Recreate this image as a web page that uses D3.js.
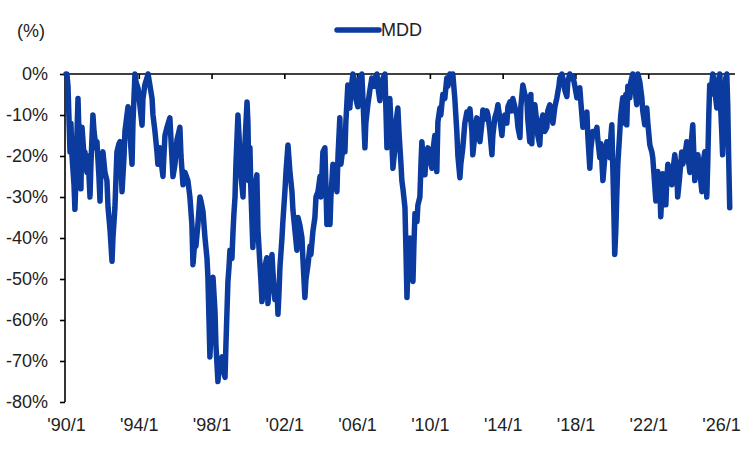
<!DOCTYPE html>
<html>
<head>
<meta charset="utf-8">
<script src="https://cdn.jsdelivr.net/npm/d3@7"></script>
<style>
body { margin:0; background:#fff; }
#mdd-chart { width:750px; height:450px; }
text { font-family:"Liberation Sans", Arial, sans-serif; fill:#222; }
</style>
</head>
<body>
<div id="mdd-chart"></div>
<script>
// time as decimal year, value as drawdown in %
var years = [
	1990.00,1990.05,1990.11,1990.22,1990.27,1990.33,1990.44,1990.49,1990.55,1990.60,1990.66,1990.71,1990.77,1990.82,1990.88,1990.99,
	1991.04,1991.15,1991.21,1991.32,1991.37,1991.48,1991.54,1991.65,1991.70,1991.81,1991.87,1991.92,
	1992.03,1992.14,1992.25,1992.31,1992.42,1992.53,1992.58,1992.69,1992.75,1992.80,1992.91,1992.97,
	1993.02,1993.08,1993.19,1993.24,1993.35,1993.41,1993.52,1993.63,1993.68,1993.79,1993.85,1993.96,
	1994.07,1994.18,1994.23,1994.34,1994.45,1994.51,1994.62,1994.73,1994.78,1994.89,
	1995.00,1995.05,1995.16,1995.22,1995.33,1995.38,1995.44,1995.55,1995.71,1995.77,1995.88,1995.99,
	1996.10,1996.21,1996.26,1996.32,1996.43,1996.54,1996.70,1996.81,1996.92,1996.98,
	1997.09,1997.14,1997.25,1997.36,1997.42,1997.53,1997.64,1997.75,1997.80,1997.86,1997.91,1997.97,
	1998.02,1998.08,1998.19,1998.24,1998.35,1998.41,1998.46,1998.57,1998.63,1998.74,1998.79,1998.90,1998.96,
	1999.01,1999.12,1999.18,1999.23,1999.29,1999.34,1999.45,1999.51,1999.56,1999.62,1999.73,1999.78,1999.89,1999.95,
	2000.00,2000.05,2000.11,2000.16,2000.27,2000.33,2000.44,2000.49,2000.55,2000.66,2000.71,2000.77,2000.88,2000.93,
	2001.04,2001.10,2001.21,2001.32,2001.37,2001.48,2001.59,2001.65,2001.70,2001.76,2001.87,2001.92,
	2002.03,2002.09,2002.20,2002.31,2002.42,2002.47,2002.58,2002.69,2002.75,2002.86,2002.97,
	2003.02,2003.13,2003.19,2003.30,2003.41,2003.46,2003.57,2003.68,2003.74,2003.85,2003.96,
	2004.01,2004.12,2004.23,2004.29,2004.34,2004.45,2004.51,2004.56,2004.67,2004.78,2004.89,2004.95,
	2005.05,2005.11,2005.22,2005.33,2005.38,2005.49,2005.55,2005.60,2005.66,2005.77,2005.88,2005.93,
	2006.04,2006.10,2006.15,2006.26,2006.32,2006.43,2006.48,2006.59,2006.70,2006.81,2006.92,2006.98,
	2007.09,2007.14,2007.25,2007.36,2007.42,2007.53,2007.58,2007.64,2007.69,2007.80,2007.86,2007.97,
	2008.08,2008.13,2008.24,2008.30,2008.41,2008.46,2008.52,2008.63,2008.68,2008.74,2008.79,2008.90,2008.96,
	2009.07,2009.12,2009.18,2009.29,2009.34,2009.45,2009.51,2009.56,2009.62,2009.73,2009.78,2009.89,
	2010.00,2010.11,2010.16,2010.27,2010.33,2010.38,2010.44,2010.55,2010.60,2010.71,2010.82,2010.93,2010.99,
	2011.10,2011.21,2011.26,2011.37,2011.48,2011.54,2011.65,2011.70,2011.81,2011.92,
	2012.03,2012.09,2012.20,2012.31,2012.36,2012.47,2012.58,2012.64,2012.75,2012.86,2012.91,
	2013.02,2013.13,2013.19,2013.30,2013.41,2013.46,2013.57,2013.68,2013.74,2013.85,2013.96,
	2014.01,2014.12,2014.23,2014.29,2014.40,2014.51,2014.56,2014.67,2014.78,2014.84,2014.95,
	2015.00,2015.11,2015.22,2015.33,2015.38,2015.49,2015.55,2015.60,2015.66,2015.77,2015.88,2015.93,
	2016.04,2016.10,2016.21,2016.32,2016.43,2016.48,2016.59,2016.70,2016.76,2016.87,2016.98,
	2017.09,2017.14,2017.25,2017.36,2017.42,2017.53,2017.58,2017.69,2017.80,2017.86,2017.97,
	2018.08,2018.13,2018.24,2018.30,2018.41,2018.52,2018.63,2018.68,2018.79,2018.85,2018.96,
	2019.07,2019.18,2019.23,2019.34,2019.40,2019.51,2019.62,2019.73,2019.78,2019.89,2019.95,
	2020.00,2020.05,2020.11,2020.16,2020.22,2020.27,2020.33,2020.44,2020.49,2020.60,2020.66,2020.71,2020.77,2020.82,2020.88,2020.99,
	2021.04,2021.15,2021.26,2021.37,2021.43,2021.54,2021.65,2021.70,2021.81,2021.92,2021.98,
	2022.09,2022.20,2022.25,2022.31,2022.42,2022.47,2022.53,2022.64,2022.69,2022.75,2022.80,2022.91,2022.97,
	2023.02,2023.08,2023.19,2023.30,2023.35,2023.46,2023.57,2023.62,2023.73,2023.84,2023.90,
	2024.01,2024.12,2024.18,2024.29,2024.34,2024.45,2024.51,2024.56,2024.67,2024.73,2024.84,2024.95,
	2025.00,2025.11,2025.16,2025.22,2025.27,2025.33,2025.38,2025.44,2025.55,2025.66,2025.71,2025.77,2025.82,2025.93,2025.98,
	2026.04,2026.09,2026.15,2026.20,2026.26,2026.32,2026.37,2026.42,2026.48
];

var mdd = [
	0,0,-3,-19,-12,-20,-27,-33,-25,-15,-6,-14,-22,-28,-13,-20,
	-19,-24,-20,-30,-22,-10,-14,-18,-16.5,-25,-31,-22,
	-19,-24,-26,-32.5,-38,-45.7,-40,-32.5,-25,-19,-17,-16.5,
	-22,-28.7,-20,-14,-10,-8,-15,-22,-12,0,-2,-3.5,
	-8,-12.5,-6,-2.5,-1,0,-3,-6,-10,-14,
	-19,-22,-18,-21,-25,-20,-15,-13,-10.7,-16,-25,-22,
	-16,-14,-13,-20,-27,-24,-26,-30,-36.7,-46.5,
	-40,-42,-36.7,-30,-31,-33.6,-40,-45,-49.6,-60,-69,-62,
	-55,-49.6,-58,-66,-75,-72,-70,-69,-72,-74,-66,-50.6,-47,
	-43,-45,-38.4,-34,-30,-22,-10,-15,-20.5,-25,-30,-22,-12,-6.8,
	-12,-26,-18,-28,-42.3,-35,-26,-24.6,-38,-46.5,-50,-55.5,-52,-47,
	-44.8,-56,-50,-44,-48,-55,-52,-58.6,-54,-47,-40,-36,
	-28.7,-24,-17.3,-24,-28.7,-33,-38,-43,-35,-37,-40,
	-45,-54.5,-50,-46.5,-42,-44,-38.4,-35,-30,-28.7,-25,
	-30,-19,-18,-28,-36.7,-33,-36.7,-30,-22,-25,-28.7,-20,
	-10.7,-22,-18,-19,-12,-2.7,-6,-8.3,-4,0,-2,-6,
	-8,-3,-1,0,-6,-18,-12,-7.5,-4,-1,-3,-1,
	0,-3,-6.5,-2,-1,0,-8,-18,-12,-6,-12,-23,
	-18,-12,-8.3,-14,-22,-26,-28,-32.6,-42,-54.5,-48,-40,-46,
	-50.6,-42,-34,-36,-32,-30,-22,-16.5,-20,-24.6,-20,-18,
	-21,-23,-19,-15,-20,-23.8,-11.7,-8.3,-10,-5,-6,-1,-3,
	0,-1,0,-6,-14,-20,-25.3,-22,-18,-12,
	-9.3,-11,-8.5,-14,-19.7,-15,-10.7,-13,-16.5,-12,-8.8,
	-11,-9,-10,-14,-19.7,-15,-10.7,-9,-7.5,-11,-15,
	-12,-10,-12,-8,-6.8,-9,-6,-8,-10,-13,-15.5,
	-8,-2.7,-5,-6,-11,-16.5,-5,-17,-10,-7.5,-12,-15,
	-17.3,-12,-10,-14,-13,-9,-7.5,-10,-12,-8,-5.8,
	-3,-1,0,-2,-4,-5.5,-2,0,-1,-0.5,-3,
	-5.8,-4,-3.4,-7,-13,-10,-9.3,-15,-23,-18,-14,
	-15,-13,-16,-20.4,-17,-26,-20,-16.5,-19,-20.4,-15,
	-12.4,-22,-33,-44,-38,-30,-22,-14,-10,-5.8,-8,-12,-5,-12.4,-3,-5.8,
	-2,0,-3,-7.5,0,-2,-5.8,-9,-12.4,-8.3,-12,
	-17.3,-19,-20.4,-24,-31,-27,-23.8,-28,-34.8,-29,-24.3,-27,-31.9,
	-26,-22,-24,-27,-24,-19.7,-24,-30,-25,-19,-22,
	-20,-16.5,-20,-24,-18,-12.4,-20,-26,-22,-19.7,-24,-28.7,
	-22,-19,-25,-30,-22,-10,-2.7,-5,0,-3,-6,-8.3,-3,0,-8,
	-14,-19.7,-12,-4,-1,0,-7.5,-20,-32.6
];

var tickYears = [1990,1994,1998,2002,2006,2010,2014,2018,2022,2026];
var tickLabels = ["'90/1","'94/1","'98/1","'02/1","'06/1","'10/1","'14/1","'18/1","'22/1","'26/1"];
var yTicks = [0,-10,-20,-30,-40,-50,-60,-70,-80];
var seriesName = "MDD";

var dataset = years.map(function(d,i){ return { year:d, value:mdd[i] }; });

var dom = document.getElementById('mdd-chart');
var width = 750;
var height = 450;
var lineColor = "#0b3b9e";

var svg = d3.select(dom)
	.append("svg")
	.attr("width", width)
	.attr("height", height);

var padding = {left:65, right:15, top:74, bottom:48};

var xScale = d3.scaleLinear()
	.domain([1990, 2026.77])
	.range([padding.left + 1, width - padding.right]);

var yScale = d3.scaleLinear()
	.domain([-80, 0])
	.range([height - padding.bottom, padding.top]);

// axis crossing at 0%: line + inner ticks, no labels
var zeroAxis = d3.axisBottom()
	.scale(xScale)
	.tickValues(tickYears)
	.tickFormat(function(){ return ""; })
	.tickSizeInner(5)
	.tickSizeOuter(0);

// labels sit at the bottom of the plot
var labelAxis = d3.axisBottom()
	.scale(xScale)
	.tickValues(tickYears)
	.tickFormat(function(d,i){ return tickLabels[i]; })
	.tickSizeInner(0)
	.tickSizeOuter(0)
	.tickPadding(16);

var yAxis = d3.axisLeft()
	.scale(yScale)
	.tickValues(yTicks)
	.tickFormat(function(d){ return d + "%"; })
	.tickSizeInner(5)
	.tickSizeOuter(0)
	.tickPadding(12);

var gy = svg.append("g")
	.attr("transform","translate(" + padding.left + ",0)")
	.call(yAxis);
gy.select(".domain").attr("stroke","#000").attr("stroke-width",1.6)
	.attr("d","M0," + yScale(-80) + "V" + yScale(0));
gy.selectAll(".tick line").attr("stroke","#000").attr("stroke-width",1.6);
gy.selectAll("text").style("font-size","18px").attr("fill","#222");

var gx = svg.append("g")
	.attr("transform","translate(0," + yScale(0) + ")")
	.call(zeroAxis);
gx.select(".domain").attr("stroke","#000").attr("stroke-width",1.6)
	.attr("d","M" + padding.left + ",0H" + (width - padding.right));
gx.selectAll(".tick line").attr("stroke","#000").attr("stroke-width",1.6);

var gl = svg.append("g")
	.attr("transform","translate(0," + yScale(-80) + ")")
	.call(labelAxis);
gl.select(".domain").remove();
gl.selectAll("text").style("font-size","18px").attr("fill","#222");

var line = d3.line()
	.x(function(d){ return xScale(d.year); })
	.y(function(d){ return yScale(d.value); });

svg.append("path")
	.datum(dataset)
	.attr("d", line)
	.attr("fill","none")
	.attr("stroke", lineColor)
	.attr("stroke-width", 5.5)
	.attr("stroke-linejoin","round")
	.attr("stroke-linecap","round");

svg.append("text")
	.attr("x", 17)
	.attr("y", 32)
	.attr("dominant-baseline","middle")
	.style("font-size","18px")
	.text("(%)");

var legend = svg.append("g").attr("transform","translate(337,30)");
legend.append("line")
	.attr("x1",0).attr("x2",42)
	.attr("y1",0).attr("y2",0)
	.attr("stroke", lineColor)
	.attr("stroke-width",5.5)
	.attr("stroke-linecap","round");
legend.append("text")
	.attr("x",44)
	.attr("y",1)
	.attr("dominant-baseline","middle")
	.style("font-size","18px")
	.text(seriesName);
</script>
</body>
</html>
